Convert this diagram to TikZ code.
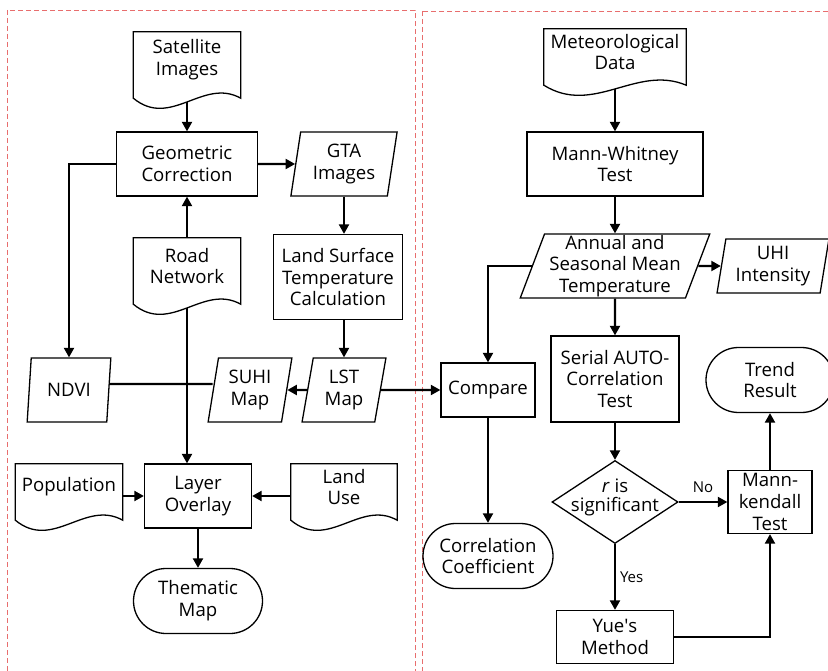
\documentclass[tikz,border=0pt]{standalone}
\usepackage{fontspec}
\setmainfont{Open Sans}
\usepackage{tikz}
\usetikzlibrary{arrows.meta}
\usetikzlibrary{calc}
\usetikzlibrary{shapes.geometric, shapes.misc}
\usetikzlibrary{positioning}

\definecolor{panelred}{RGB}{232,110,110}

\tikzset{
  every node/.style={font=\fontsize{18.6}{21.8}\selectfont, align=center, inner sep=0pt},
  boxline/.style={draw, line width=1.3pt},
  proc/.style={boxline, rectangle},
  data/.style={boxline, trapezium, trapezium left angle=80, trapezium right angle=100,
    trapezium stretches=true},
  term/.style={boxline, rounded rectangle},
  decide/.style={boxline, diamond},
  doc/.style={rectangle},
  conn/.style={line width=2.1pt},
  arr/.style={conn, -{Triangle[length=9.5pt, width=10pt]}},
  answer/.style={font=\fontsize{15}{18}\selectfont},
  panel/.style={draw=panelred, line width=0.8pt, dash pattern=on 5pt off 3pt}
}

% outline of a document box, wave below the node
\newcommand{\docshape}[1]{%
  \draw[boxline] (#1.north west) -- (#1.north east) -- ([yshift=-10pt]#1.south east)
    .. controls ($(#1.south west)!0.65!(#1.south east)+(0pt,11pt)$)
    and ($(#1.south west)!0.35!(#1.south east)+(0pt,-41pt)$)
    .. ([yshift=-10pt]#1.south west) -- cycle;
  \coordinate (#1-w) at ([yshift=-14pt]#1.south);}

\begin{document}
\begin{tikzpicture}[x=1pt, y=-1pt]
\useasboundingbox (0,0) rectangle (828,671);
\clip (0,0) rectangle (828,671);
\draw[panel] (7,10) rectangle (415,690);
\draw[panel] (422,11) rectangle (850,690);

% left part
\node[doc, minimum width=107pt, minimum height=56pt] (sat) at (187,60) {Satellite\\Images};
\docshape{sat}
\node[proc, minimum width=141pt, minimum height=64pt] (geo) at (187,164) {Geometric\\Correction};
\node[data, minimum width=107pt, minimum height=64pt] (gta) at (344,164) {GTA\\Images};
\node[doc, minimum width=107pt, minimum height=56pt] (road) at (187,266) {Road\\Network};
\docshape{road}
\node[proc, minimum width=129pt, minimum height=85pt] (lstc) at (338,277) {Land Surface\\Temperature\\Calculation};
\node[data, minimum width=84pt, minimum height=64pt] (ndvi) at (69,390) {NDVI};
\node[data, minimum width=84pt, minimum height=64pt] (suhi) at (250,390) {SUHI\\Map};
\node[data, minimum width=84pt, minimum height=64pt] (lst) at (344,390) {LST\\Map};
\node[doc, minimum width=107pt, minimum height=46pt] (pop) at (69,487) {Population};
\docshape{pop}
\node[proc, minimum width=107pt, minimum height=64pt] (lay) at (198,496) {Layer\\Overlay};
\node[doc, minimum width=106pt, minimum height=46pt] (land) at (344,487) {Land\\Use};
\docshape{land}
\node[term, minimum width=129pt, minimum height=65pt] (them) at (198,601) {Thematic\\Map};

% right part
\node[doc, minimum width=142pt, minimum height=46pt] (met) at (615,52) {Meteorological\\Data};
\docshape{met}
\node[proc, minimum width=176pt, minimum height=64pt] (mw) at (615,164) {Mann-Whitney\\Test};
\node[data, trapezium left angle=70, trapezium right angle=110, minimum width=190pt,
  minimum height=64pt] (amt) at (615,266) {Annual and\\Seasonal Mean\\Temperature};
\node[data, minimum width=112pt, minimum height=54pt] (uhi) at (773,266) {UHI\\Intensity};
\node[proc, minimum width=94pt, minimum height=54pt] (cmp) at (488,390) {Compare};
\node[term, minimum width=130pt, minimum height=65pt] (corr) at (488,556) {Correlation\\Coefficient};
\node[proc, minimum width=128pt, minimum height=86pt] (sac) at (615,379) {Serial AUTO-\\Correlation\\Test};
\node[decide, minimum width=126pt, minimum height=83pt] (sig) at (615,502)
  {\makebox[0pt]{\smash{\begin{tabular}{@{}c@{}}\textit{r} is\\[-3pt]significant\end{tabular}}}};
\node[proc, minimum width=84pt, minimum height=63pt] (mk) at (770,502) {Mann-\\kendall\\Test};
\node[term, minimum width=128pt, minimum height=65pt] (trend) at (770,380) {Trend\\Result};
\node[proc, minimum width=117pt, minimum height=53pt] (yue) at (615,637) {Yue\textquotesingle s\\Method};

% connectors
\draw[arr] (sat-w) -- (geo.north);
\draw[arr] (road.north) -- (geo.south);
\draw[arr] (geo.east) -- (gta);
\draw[arr] (geo.west) -| (ndvi.north);
\draw[arr] (gta.south) -- (gta.south |- lstc.north);
\draw[arr] (lstc.south -| lst.north) -- (lst.north);
\draw[arr] (lst) -- (suhi);
\draw[conn] ([yshift=6pt]ndvi.east) -- ([yshift=6pt]suhi.west);
\draw[arr] (road-w) -- (road-w |- lay.north);
\draw[arr] (lst) -- (cmp);
\draw[arr] (pop.east |- lay) -- (lay.west);
\draw[arr] (land.west |- lay) -- (lay.east);
\draw[arr] (lay) -- (them);
\draw[arr] (met-w) -- (mw.north);
\draw[arr] (mw) -- (amt);
\draw[arr] (amt) -- (uhi);
\draw[arr] (amt.west) -| (cmp.north);
\draw[arr] (amt) -- (sac);
\draw[arr] (cmp) -- (corr);
\draw[arr] (sac) -- (sig);
\draw[arr] (sig) -- node[answer, above=8pt] {No} (mk);
\draw[arr] (sig) -- node[answer, right=4pt] {Yes} (yue);
\draw[arr] (yue.east) -| (mk.south);
\draw[arr] (mk) -- (trend);
\end{tikzpicture}
\end{document}
